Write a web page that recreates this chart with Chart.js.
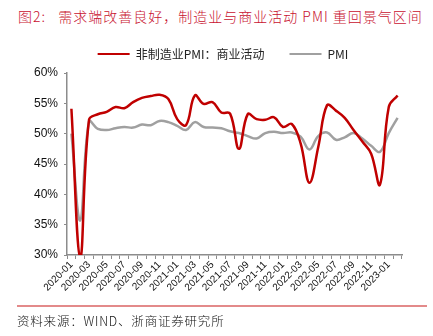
<!DOCTYPE html>
<html>
<head>
<meta charset="utf-8">
<script src="https://cdn.jsdelivr.net/npm/chart.js@4"></script>
<style>
  html, body { margin: 0; padding: 0; background: #fff; }
  #wrap { position: relative; width: 433px; height: 336px; overflow: hidden; }
  #chart { position: absolute; left: 0; top: 0; }
  .title {
    position: absolute; left: 18px; top: 6px; white-space: pre;
    font-family: "Noto Sans CJK SC", sans-serif; font-size: 14px; font-weight: 300; color: #c8102e;
    letter-spacing: 1px;
  }
  .rule { position: absolute; left: 17px; top: 305px; width: 410px; height: 2px; background: #e38a8a; }
  .source {
    position: absolute; left: 17px; top: 311px; white-space: pre;
    font-family: "Noto Sans CJK SC", sans-serif; font-size: 12.5px; font-weight: 300; color: #111;
    letter-spacing: 0.8px;
  }
</style>
</head>
<body>
<div id="wrap">
  <div class="title">图2:   需求端改善良好，制造业与商业活动 PMI 重回景气区间</div>
  <canvas id="chart" width="433" height="336"></canvas>
  <div class="rule"></div>
  <div class="source">资料来源：WIND、浙商证券研究所</div>
</div>
<script>
const months = [
  "2020-01", "2020-02", "2020-03", "2020-04", "2020-05", "2020-06", "2020-07", "2020-08",
  "2020-09", "2020-10", "2020-11", "2020-12", "2021-01", "2021-02", "2021-03", "2021-04",
  "2021-05", "2021-06", "2021-07", "2021-08", "2021-09", "2021-10", "2021-11", "2021-12",
  "2022-01", "2022-02", "2022-03", "2022-04", "2022-05", "2022-06", "2022-07", "2022-08",
  "2022-09", "2022-10", "2022-11", "2022-12", "2023-01", "2023-02"
];

// 非制造业PMI：商业活动
const nonMfgActivity = [
  54.1, 29.6, 52.3, 53.2, 53.6, 54.4, 54.2, 55.2,
  55.9, 56.2, 56.4, 55.7, 52.4, 51.4, 56.3, 54.9,
  55.2, 53.5, 53.3, 47.5, 53.2, 52.4, 52.3, 52.7,
  51.1, 51.6, 48.4, 41.9, 47.8, 54.7, 53.8, 52.6,
  50.6, 48.7, 46.7, 41.6, 54.4, 56.3
];

// 制造业PMI
const pmi = [
  50.0, 35.7, 52.0, 50.8, 50.6, 50.9, 51.1, 51.0,
  51.5, 51.4, 52.1, 51.9, 51.3, 50.6, 51.9, 51.1,
  51.0, 50.9, 50.4, 50.1, 49.6, 49.2, 50.1, 50.3,
  50.1, 50.2, 49.5, 47.4, 49.6, 50.2, 49.0, 49.4,
  50.1, 49.2, 48.0, 47.0, 50.1, 52.6
];

const yTicks = [30, 35, 40, 45, 50, 55, 60];

const axisColor = "#8c8c8c";

// nudge the legend right so it sits where the original one does
const legendShift = {
  id: "legendShift",
  afterLayout(chart) {
    chart.legend.left += 22;
    chart.legend.right += 22;
  }
};

const chart = new Chart(document.getElementById("chart"), {
  type: "line",
  data: {
    labels: months,
    datasets: [
      {
        label: "非制造业PMI：商业活动",
        data: nonMfgActivity,
        borderColor: "#c00000",
        backgroundColor: "#c00000",
        borderWidth: 2.5,
        pointRadius: 0,
        tension: 0.4
      },
      {
        label: "PMI",
        data: pmi,
        borderColor: "#a0a0a0",
        backgroundColor: "#a0a0a0",
        borderWidth: 2.5,
        pointRadius: 0,
        tension: 0.4
      }
    ]
  },
  options: {
    responsive: false,
    animation: false,
    layout: { padding: { top: 23, left: 0, right: 31, bottom: 0 } },
    plugins: {
      tooltip: { enabled: false },
      legend: {
        position: "top",
        labels: {
          boxWidth: 32,
          boxHeight: 2,
          padding: 25,
          color: "#222",
          font: { family: "'Noto Sans CJK SC', sans-serif", size: 12 },
          generateLabels(chart) {
            const items = Chart.defaults.plugins.legend.labels.generateLabels(chart);
            items.forEach(it => { it.lineWidth = 0; it.fillStyle = it.strokeStyle; });
            return items;
          }
        }
      }
    },
    scales: {
      x: {
        type: "category",
        offset: true,
        afterFit(scale) { scale.height = 81; },
        grid: {
          display: true,
          offset: true,
          drawOnChartArea: false,
          drawTicks: true,
          tickLength: 4,
          color: axisColor
        },
        border: { display: true, color: axisColor, width: 1.5 },
        ticks: {
          autoSkip: false,
          maxRotation: 45,
          minRotation: 45,
          padding: 0,
          color: "#111",
          font: { family: "'Liberation Sans', Arial, sans-serif", size: 10 },
          callback(value, index) { return index % 2 === 0 ? months[index] : ""; }
        }
      },
      y: {
        min: yTicks[0],
        max: yTicks[yTicks.length - 1],
        afterFit(scale) { scale.width = 67; },
        afterBuildTicks(scale) { scale.ticks = yTicks.map(v => ({ value: v })); },
        grid: {
          display: true,
          drawOnChartArea: false,
          drawTicks: true,
          tickLength: 3,
          color: axisColor
        },
        border: { display: true, color: axisColor, width: 1.5 },
        ticks: {
          padding: 6,
          color: "#111",
          font: { family: "'Liberation Sans', Arial, sans-serif", size: 12 },
          callback(v) { return v + "%"; }
        }
      }
    }
  },
  plugins: [legendShift]
});

// fix the legend block height so the plot starts at the same place as the original
const origFit = chart.legend.fit;
chart.legend.fit = function () {
  origFit.call(this);
  this.height = 50;
};
chart.update();
</script>
</body>
</html>
